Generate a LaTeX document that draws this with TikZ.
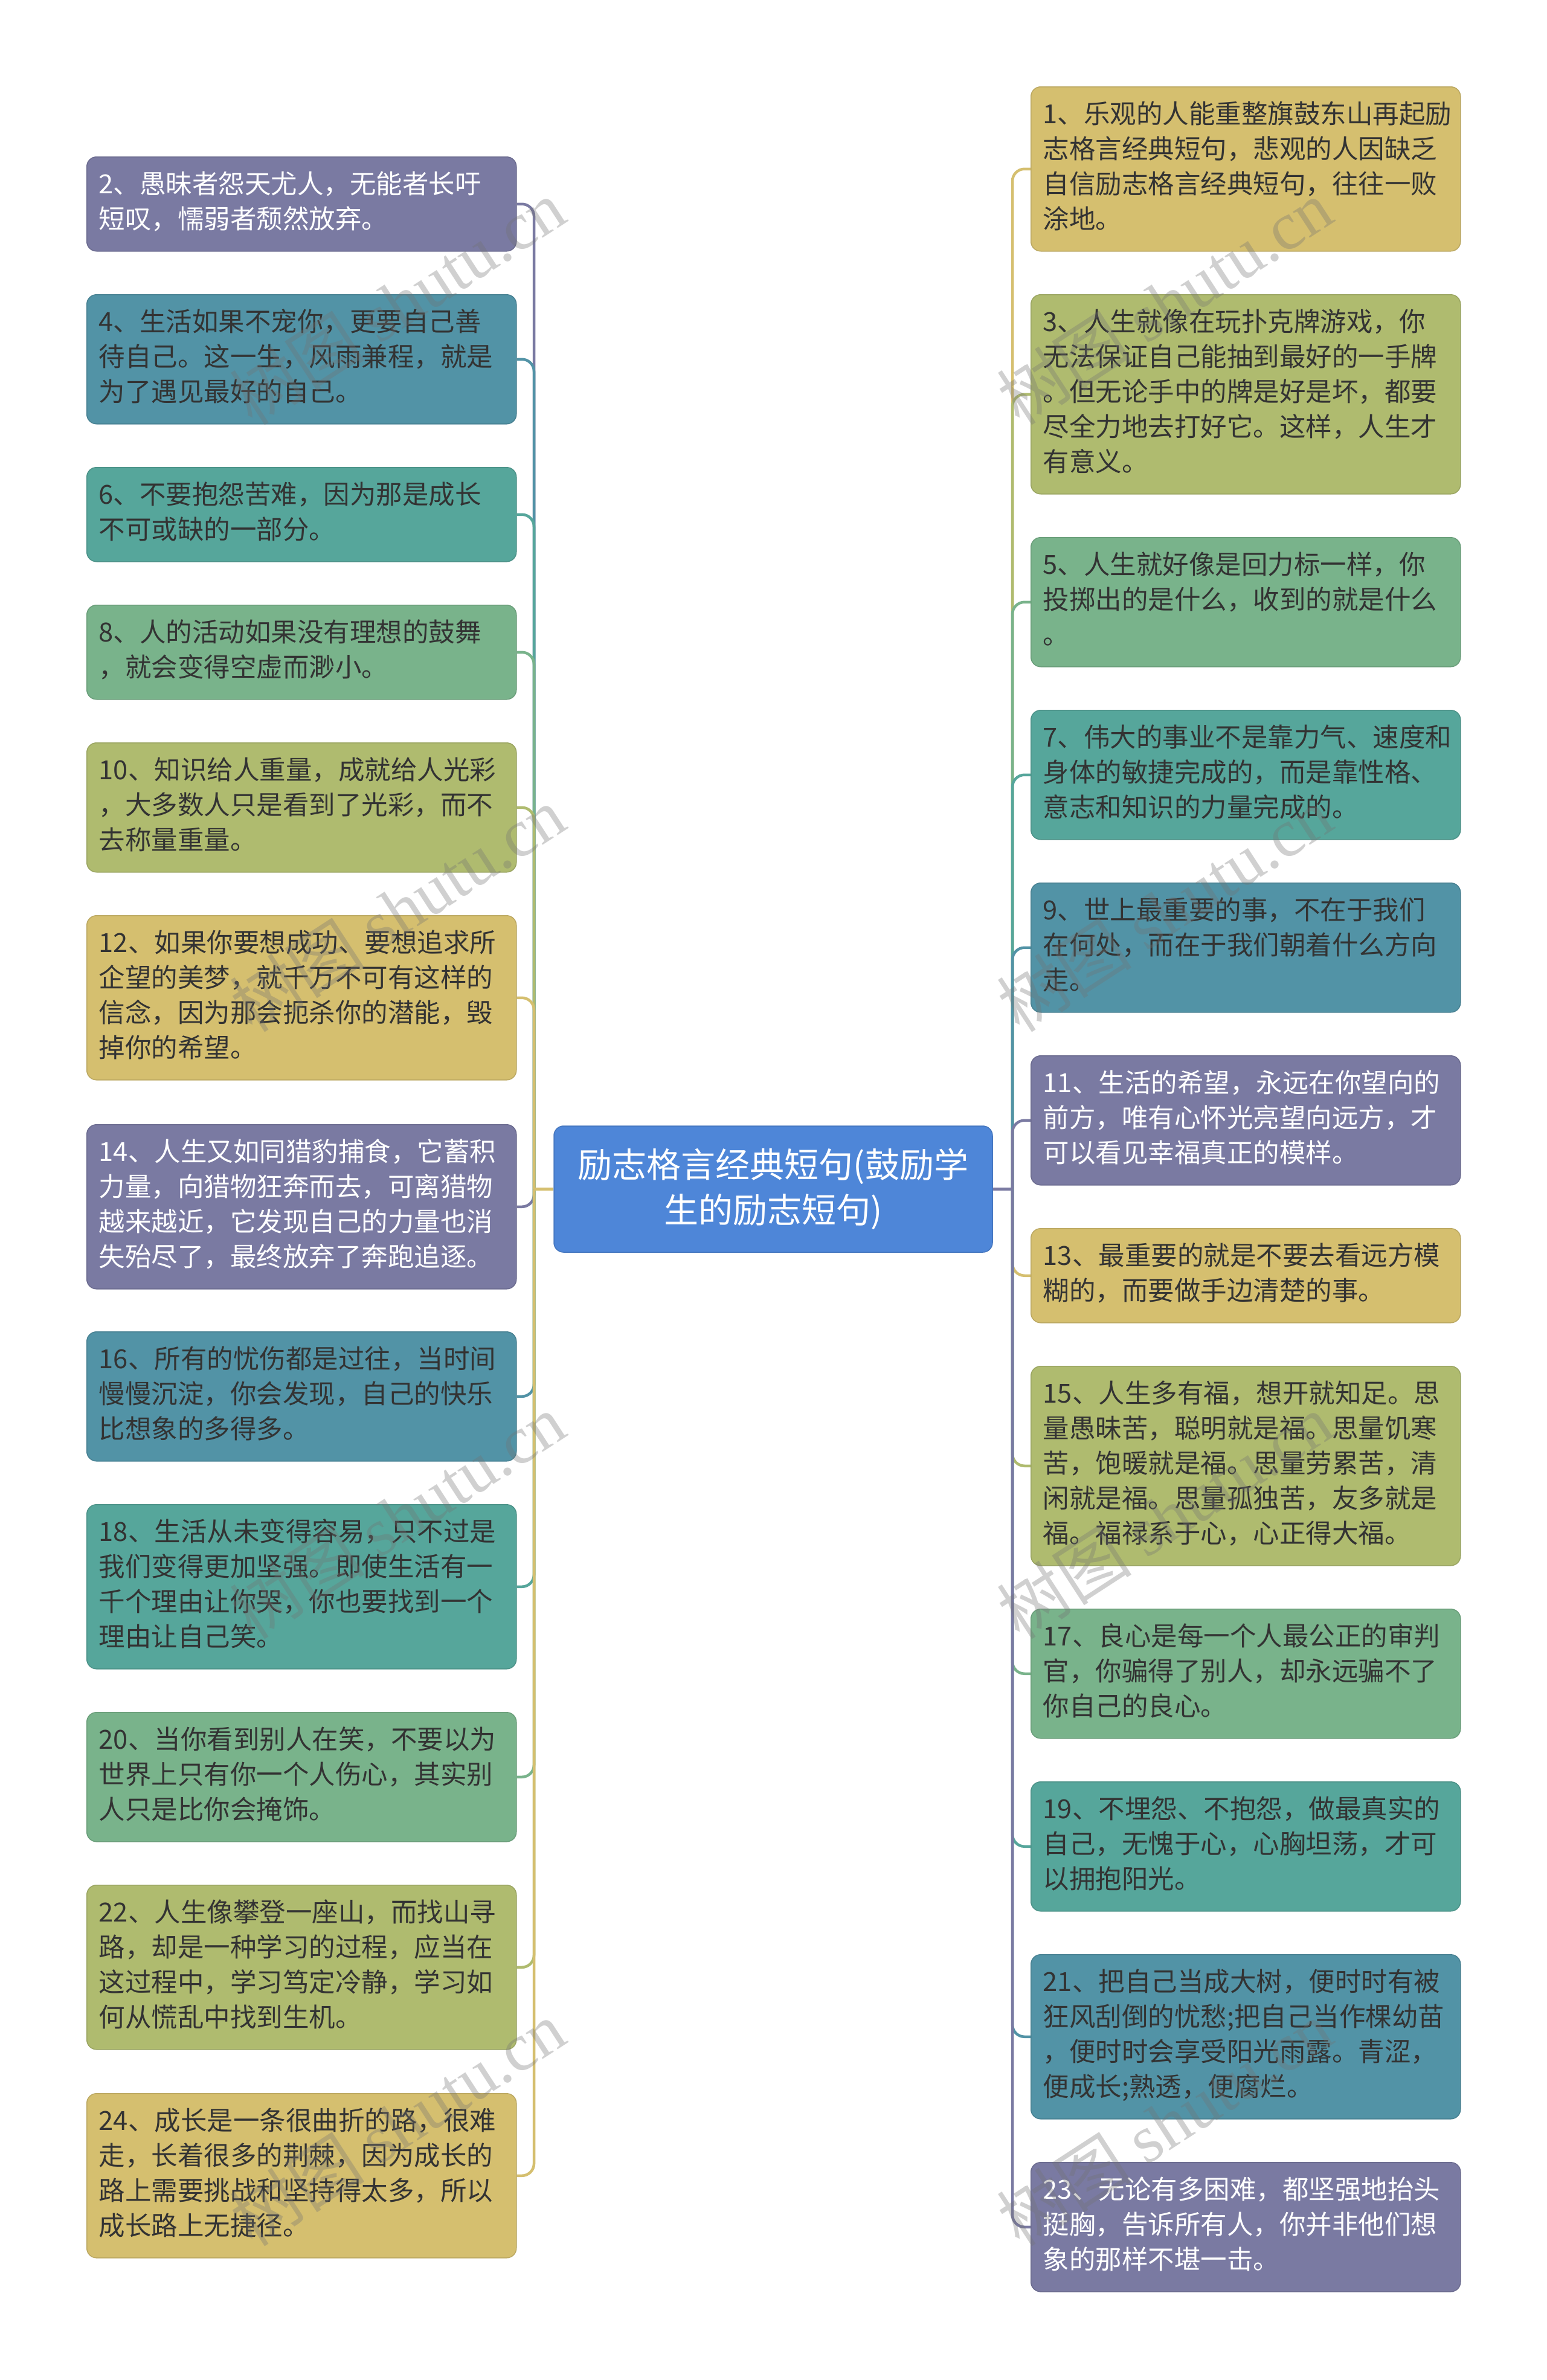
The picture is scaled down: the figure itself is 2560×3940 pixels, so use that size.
\documentclass[tikz,border=0pt]{standalone}
\usepackage{fontspec}
\usetikzlibrary{backgrounds}
\setmainfont{Noto Sans CJK SC}
\newfontfamily\cjkfont{Noto Sans CJK SC}
\newfontfamily\wmlatin{Liberation Serif}
\definecolor{cP}{HTML}{7A7AA2}
\definecolor{cB}{HTML}{5293A6}
\definecolor{cT}{HTML}{56A69B}
\definecolor{cG}{HTML}{79B38B}
\definecolor{cO}{HTML}{AFBB6F}
\definecolor{cY}{HTML}{D5BF6F}
\definecolor{cC}{HTML}{4E86D8}
\definecolor{txtdark}{HTML}{333333}
\tikzset{
  qnode/.style={anchor=north west, rounded corners=16pt, text width=671pt,
    inner xsep=20pt, inner ysep=20pt, align=left, minimum width=711pt,
    line width=1.5pt, font=\fontsize{43.5}{58}\selectfont},
  centernode/.style={fill=cC, draw=cC!88!black, line width=1.5pt, rounded corners=16pt,
    minimum width=726pt, minimum height=209pt, text=white, align=center,
    font=\fontsize{57}{75}\selectfont},
  conn/.style={line width=4.5pt, rounded corners=20pt},
  wmark/.style={rotate=33, text=black!55, opacity=0.33, font=\fontsize{112}{112}\selectfont}
}
% \qbox{name}{x}{y}{lines}{fill}{textcolor}{text}
\newcommand\qbox[7]{%
  \node[qnode, fill=#5, draw=#5!88!black, text=#6, minimum height={58*#4+40}] (#1) at (#2,#3) {\strut #7\strut};}
\newcommand\wmtext{{\cjkfont 树图} {\wmlatin shutu.cn}}
\begin{document}
\begin{tikzpicture}[x=1pt,y=-1pt]
\useasboundingbox (0,0) rectangle (2560,3940);

\node[centernode] (C) at (1280,1968.5) {励志格言经典短句(鼓励学\\生的励志短句)};
\coordinate (JL) at (884,1968.5);
\coordinate (JR) at (1676,1968.5);

% left column
\qbox{L2}{143}{259}{2}{cP}{white}{2、愚昧者怨天尤人，无能者长吁\\短叹，懦弱者颓然放弃。}
\qbox{L4}{143}{487}{3}{cB}{txtdark}{4、生活如果不宠你，更要自己善\\待自己。这一生，风雨兼程，就是\\为了遇见最好的自己。}
\qbox{L6}{143}{773}{2}{cT}{txtdark}{6、不要抱怨苦难，因为那是成长\\不可或缺的一部分。}
\qbox{L8}{143}{1001}{2}{cG}{txtdark}{8、人的活动如果没有理想的鼓舞\\，就会变得空虚而渺小。}
\qbox{L10}{143}{1229}{3}{cO}{txtdark}{10、知识给人重量，成就给人光彩\\，大多数人只是看到了光彩，而不\\去称量重量。}
\qbox{L12}{143}{1515}{4}{cY}{txtdark}{12、如果你要想成功、要想追求所\\企望的美梦，就千万不可有这样的\\信念，因为那会扼杀你的潜能，毁\\掉你的希望。}
\qbox{L14}{143}{1861}{4}{cP}{white}{14、人生又如同猎豹捕食，它蓄积\\力量，向猎物狂奔而去，可离猎物\\越来越近，它发现自己的力量也消\\失殆尽了，最终放弃了奔跑追逐。}
\qbox{L16}{143}{2204}{3}{cB}{txtdark}{16、所有的忧伤都是过往，当时间\\慢慢沉淀，你会发现，自己的快乐\\比想象的多得多。}
\qbox{L18}{143}{2490}{4}{cT}{txtdark}{18、生活从未变得容易，只不过是\\我们变得更加坚强。即使生活有一\\千个理由让你哭，你也要找到一个\\理由让自己笑。}
\qbox{L20}{143}{2834}{3}{cG}{txtdark}{20、当你看到别人在笑，不要以为\\世界上只有你一个人伤心，其实别\\人只是比你会掩饰。}
\qbox{L22}{143}{3120}{4}{cO}{txtdark}{22、人生像攀登一座山，而找山寻\\路，却是一种学习的过程，应当在\\这过程中，学习笃定冷静，学习如\\何从慌乱中找到生机。}
\qbox{L24}{143}{3465}{4}{cY}{txtdark}{24、成长是一条很曲折的路，很难\\走，长着很多的荆棘，因为成长的\\路上需要挑战和坚持得太多，所以\\成长路上无捷径。}

% right column
\qbox{R1}{1706}{143}{4}{cY}{txtdark}{1、乐观的人能重整旗鼓东山再起励\\志格言经典短句，悲观的人因缺乏\\自信励志格言经典短句，往往一败\\涂地。}
\qbox{R3}{1706}{487}{5}{cO}{txtdark}{3、人生就像在玩扑克牌游戏，你\\无法保证自己能抽到最好的一手牌\\。但无论手中的牌是好是坏，都要\\尽全力地去打好它。这样，人生才\\有意义。}
\qbox{R5}{1706}{889}{3}{cG}{txtdark}{5、人生就好像是回力标一样，你\\投掷出的是什么，收到的就是什么\\。}
\qbox{R7}{1706}{1175}{3}{cT}{txtdark}{7、伟大的事业不是靠力气、速度和\\身体的敏捷完成的，而是靠性格、\\意志和知识的力量完成的。}
\qbox{R9}{1706}{1461}{3}{cB}{txtdark}{9、世上最重要的事，不在于我们\\在何处，而在于我们朝着什么方向\\走。}
\qbox{R11}{1706}{1747}{3}{cP}{white}{11、生活的希望，永远在你望向的\\前方，唯有心怀光亮望向远方，才\\可以看见幸福真正的模样。}
\qbox{R13}{1706}{2033}{2}{cY}{txtdark}{13、最重要的就是不要去看远方模\\糊的，而要做手边清楚的事。}
\qbox{R15}{1706}{2261}{5}{cO}{txtdark}{15、人生多有福，想开就知足。思\\量愚昧苦，聪明就是福。思量饥寒\\苦，饱暖就是福。思量劳累苦，清\\闲就是福。思量孤独苦，友多就是\\福。福禄系于心，心正得大福。}
\qbox{R17}{1706}{2663}{3}{cG}{txtdark}{17、良心是每一个人最公正的审判\\官，你骗得了别人，却永远骗不了\\你自己的良心。}
\qbox{R19}{1706}{2949}{3}{cT}{txtdark}{19、不埋怨、不抱怨，做最真实的\\自己，无愧于心，心胸坦荡，才可\\以拥抱阳光。}
\qbox{R21}{1706}{3235}{4}{cB}{txtdark}{21、把自己当成大树，便时时有被\\狂风刮倒的忧愁;把自己当作棵幼苗\\，便时时会享受阳光雨露。青涩，\\便成长;熟透，便腐烂。}
\qbox{R23}{1706}{3579}{3}{cP}{white}{23、无论有多困难，都坚强地抬头\\挺胸，告诉所有人，你并非他们想\\象的那样不堪一击。}

% connectors (behind boxes)
\begin{scope}[on background layer]
\fill[white] (0,0) rectangle (2560,3940);
\foreach \n/\c in {L2/cP,L4/cB,L6/cT,L8/cG,L10/cO,L12/cY,L14/cP,L16/cB,L18/cT,L20/cG,L22/cO,L24/cY}
  \draw[conn, draw=\c] (JL) |- (\n.east);
\foreach \n/\c in {R1/cY,R3/cO,R5/cG,R7/cT,R9/cB,R11/cP,R13/cY,R15/cO,R17/cG,R19/cT,R21/cB,R23/cP}
  \draw[conn, draw=\c] (JR) |- (\n.west);
\draw[line width=4.5pt, draw=cY] (C.west) -- (JL);
\draw[line width=4.5pt, draw=cP] (C.east) -- (JR);
\end{scope}

% watermark
\foreach \wx in {658,1928}
  \foreach \wy in {500,1505,2510,3515}
    \node[wmark] (wm-\wx-\wy) at (\wx,\wy) {\wmtext};
\end{tikzpicture}
\end{document}
